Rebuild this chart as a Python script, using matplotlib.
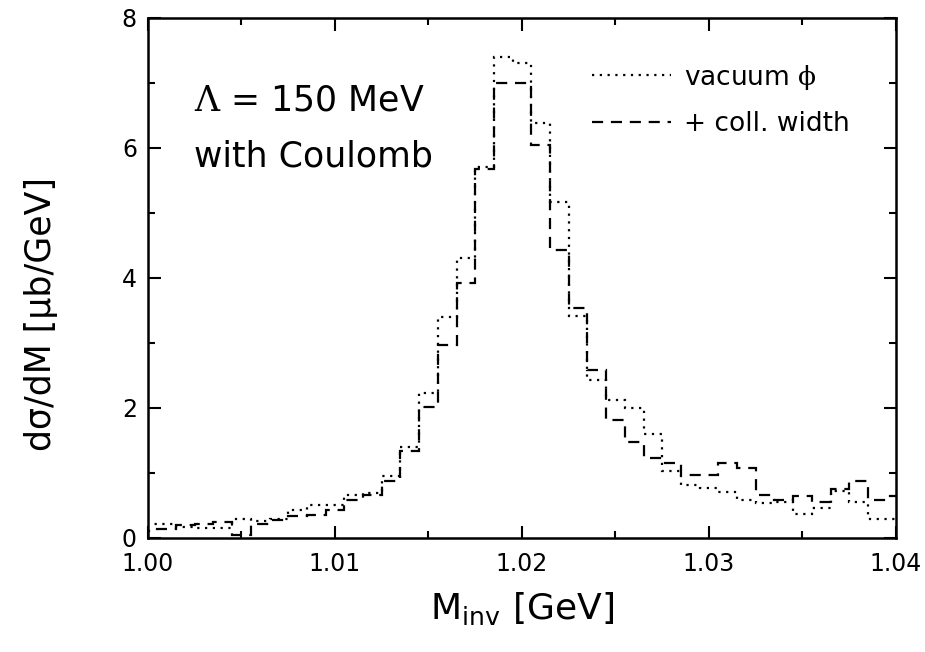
import numpy as np
import matplotlib
matplotlib.use('Agg')
import matplotlib.pyplot as plt
from matplotlib.ticker import MultipleLocator

plt.rcParams['font.family'] = ['DejaVu Sans']
# sans for roman math text, serif (regular weight) for the greek symbols via \mathbf
plt.rcParams['mathtext.fontset'] = 'custom'
plt.rcParams['mathtext.rm'] = 'DejaVu Sans'
plt.rcParams['mathtext.bf'] = 'DejaVu Serif'

# bin centres 1.000 ... 1.040 GeV, width 1 MeV
bin_centers = np.round(np.arange(1.000, 1.0405, 0.001), 3)

# vacuum phi (dotted)
vacuum = [0.22, 0.22, 0.17, 0.16, 0.15, 0.29, 0.26, 0.29, 0.43, 0.51,
          0.51, 0.66, 0.69, 0.95, 1.40, 2.23, 3.40, 4.30, 5.71, 7.40,
          7.30, 6.38, 5.17, 3.42, 2.43, 2.12, 2.00, 1.60, 1.03, 0.82,
          0.77, 0.70, 0.59, 0.53, 0.56, 0.37, 0.46, 0.72, 0.56, 0.29,
          0.29]

# + collisional width (dashed)
coll = [0.10, 0.13, 0.20, 0.22, 0.25, 0.04, 0.21, 0.27, 0.33, 0.36,
        0.43, 0.58, 0.66, 0.87, 1.33, 2.02, 2.97, 3.92, 5.68, 7.00,
        7.00, 6.05, 4.43, 3.54, 2.58, 1.82, 1.47, 1.23, 1.16, 0.97,
        0.97, 1.16, 1.07, 0.66, 0.58, 0.64, 0.56, 0.75, 0.87, 0.58,
        0.64]

edges = np.append(bin_centers - 0.0005, bin_centers[-1] + 0.0005)

fig = plt.figure(figsize=(9.25, 6.52), dpi=100)
ax = fig.add_axes([0.16, 0.175, 0.8086, 0.7974])

ax.stairs(vacuum, edges, baseline=None, color='black', lw=1.6,
          linestyle=(0, (1, 2.5)), label=r'vacuum $\mathbf{\phi}$')
ax.stairs(coll, edges, baseline=None, color='black', lw=1.6,
          linestyle=(0, (5, 3.5)), label='+ coll. width')

ax.set_xlim(1.00, 1.04)
ax.set_ylim(0, 8)
ax.xaxis.set_minor_locator(MultipleLocator(0.005))
ax.yaxis.set_major_locator(MultipleLocator(2))
ax.yaxis.set_minor_locator(MultipleLocator(1))
ax.set_xticks([1.00, 1.01, 1.02, 1.03, 1.04])
ax.set_xticklabels(['1.00', '1.01', '1.02', '1.03', '1.04'])
ax.tick_params(which='both', direction='in', top=True, right=True, width=1.5)
ax.tick_params(which='major', length=9, labelsize=17)
ax.tick_params(axis='x', which='major', pad=10)
ax.tick_params(axis='y', which='major', pad=8)
ax.tick_params(which='minor', length=5)
for s in ax.spines.values():
    s.set_linewidth(1.8)

ax.set_xlabel(r'M$_{\mathrm{inv}}$ [GeV]', fontsize=26, labelpad=10)
ax.set_ylabel('dσ/dM [μb/GeV]', fontsize=25)
ax.yaxis.set_label_coords(-0.12, 0.43)

ax.text(0.062, 0.823, r'$\mathbf{\Lambda}$ = 150 MeV', transform=ax.transAxes, fontsize=25)
ax.text(0.062, 0.715, 'with Coulomb', transform=ax.transAxes, fontsize=25)

leg = ax.legend(loc='upper right', bbox_to_anchor=(0.97, 0.96), frameon=False,
                fontsize=19, handlelength=3.0, handletextpad=0.5, labelspacing=0.75)

plt.savefig('out.png', dpi=100)
